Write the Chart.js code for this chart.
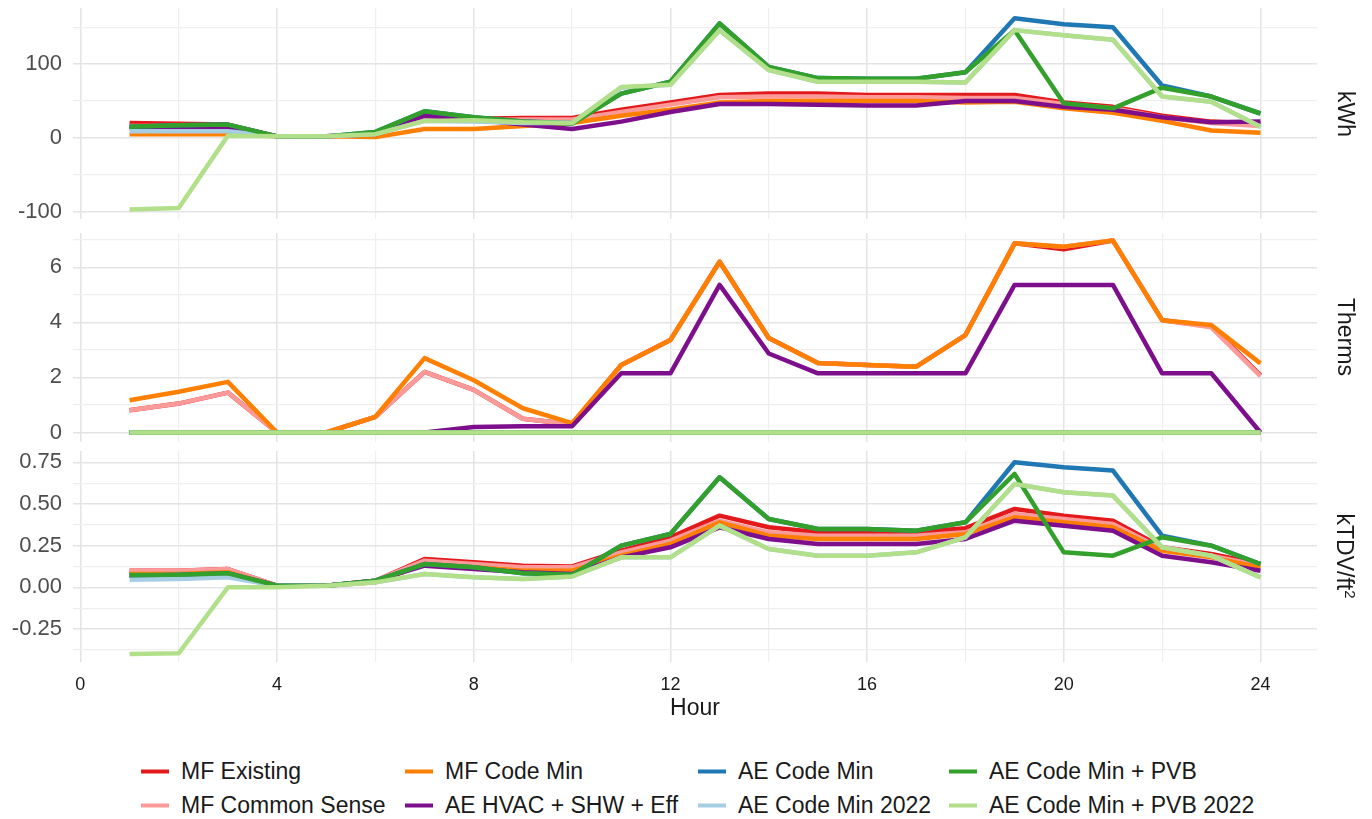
<!DOCTYPE html>
<html>
<head>
<meta charset="utf-8">
<script src="https://cdn.jsdelivr.net/npm/chart.js@4.4.1/dist/chart.umd.min.js"></script>
<style>
  body { margin: 0; background: #fff; width: 1372px; height: 819px; position: relative; overflow: hidden;
         font-family: "Liberation Sans", Arial, sans-serif; }
  canvas.panel { position: absolute; left: 0; }
  .strip { position: absolute; left: 1345px; transform: translate(-50%, -50%) rotate(90deg);
           font-size: 23px; color: #1a1a1a; white-space: nowrap; }
  .strip sup { font-size: 15px; }
  .item { position: absolute; display: flex; align-items: center; transform: translateY(-50%);
          font-size: 23px; color: #1a1a1a; white-space: nowrap; }
  .key { display: inline-block; width: 28px; height: 4px; margin-right: 12px; }
</style>
</head>
<body>
<canvas id="kwh" class="panel" width="1372" height="230" style="top:0px"></canvas>
<canvas id="therms" class="panel" width="1372" height="225" style="top:225px"></canvas>
<canvas id="ktdv" class="panel" width="1372" height="300" style="top:445px"></canvas>
<div class="strip" style="top:114px">kWh</div>
<div class="strip" style="top:337px">Therms</div>
<div class="strip" style="top:556px">kTDV/ft<sup>2</sup></div>
<div id="legend"></div>

<script>
// categories
const hours = [1, 2, 3, 4, 5, 6, 7, 8, 9, 10, 11, 12, 13, 14, 15, 16, 17, 18, 19, 20, 21, 22, 23, 24];
const seriesNames = ['MF Existing', 'MF Common Sense', 'MF Code Min', 'AE HVAC + SHW + Eff',
                     'AE Code Min', 'AE Code Min 2022', 'AE Code Min + PVB', 'AE Code Min + PVB 2022'];
const seriesColors = ['#e31a1c', '#fb9a99', '#ff7f00', '#7d0f8c',
                      '#1f78b4', '#a6cee3', '#33a02c', '#b2df8a'];

// kWh panel
const kwhMfExisting = [20, 19, 18, 2, 2, 5, 31, 26, 27, 27, 38, 48, 58, 60, 60, 58, 58, 58, 58, 48, 42, 30, 22, 19];
const kwhMfCommon   = [16, 16, 15, 2, 2, 5, 28, 24, 25, 25, 35, 45, 55, 56, 56, 55, 55, 54, 54, 46, 40, 28, 20, 16];
const kwhMfCodeMin  = [5, 5, 5, 2, 2, 1, 12, 12, 16, 20, 30, 38, 48, 50, 50, 50, 50, 48, 49, 40, 34, 23, 10, 7];
const kwhAeHvac     = [14, 14, 14, 2, 2, 5, 30, 25, 18, 12, 22, 35, 46, 46, 45, 44, 44, 50, 50, 42, 38, 28, 21, 22];
const kwhAeCodeMin  = [15, 17, 18, 2, 2, 8, 36, 28, 22, 20, 60, 76, 155, 96, 81, 80, 80, 89, 162, 154, 150, 71, 56, 33];
const kwhAeCode2022 = [9, 9, 9, 2, 2, 5, 23, 22, 20, 20, 68, 72, 146, 92, 76, 76, 76, 75, 146, 139, 133, 56, 49, 15];
const kwhAePvb      = [15, 17, 18, 2, 2, 8, 36, 28, 22, 19, 60, 76, 155, 96, 81, 80, 80, 89, 146, 47, 40, 68, 56, 33];
const kwhAePvb2022  = [-97, -95, 3, 2, 2, 5, 23, 24, 21, 20, 69, 72, 146, 92, 76, 76, 76, 75, 146, 139, 133, 56, 49, 15];

// Therms panel
const thmMfExisting = [0.81, 1.05, 1.45, 0, 0, 0.57, 2.2, 1.55, 0.5, 0.3, 2.45, 3.36, 6.2, 3.43, 2.52, 2.45, 2.39, 3.54, 6.87, 6.65, 6.97, 4.08, 3.86, 2.08];
const thmMfCommon   = [0.81, 1.05, 1.45, 0, 0, 0.57, 2.2, 1.55, 0.5, 0.3, 2.45, 3.36, 6.2, 3.43, 2.52, 2.45, 2.39, 3.54, 6.87, 6.75, 6.97, 4.08, 3.82, 2.05];
const thmMfCodeMin  = [1.17, 1.48, 1.84, 0, 0, 0.57, 2.7, 1.9, 0.88, 0.34, 2.45, 3.36, 6.2, 3.43, 2.52, 2.45, 2.39, 3.54, 6.87, 6.75, 6.97, 4.08, 3.9, 2.51];
const thmAeHvac     = [0, 0, 0, 0, 0, 0, 0, 0.2, 0.23, 0.23, 2.15, 2.15, 5.36, 2.87, 2.15, 2.15, 2.15, 2.15, 5.36, 5.36, 5.36, 2.15, 2.15, 0];
const thmAllElec    = [0, 0, 0, 0, 0, 0, 0, 0, 0, 0, 0, 0, 0, 0, 0, 0, 0, 0, 0, 0, 0, 0, 0, 0];

// kTDV/ft2 panel
const tdvMfExisting = [0.10, 0.10, 0.11, 0.01, 0.01, 0.04, 0.17, 0.15, 0.13, 0.125, 0.22, 0.30, 0.43, 0.36, 0.33, 0.33, 0.33, 0.355, 0.47, 0.43, 0.40, 0.24, 0.20, 0.14];
const tdvMfCommon   = [0.10, 0.10, 0.11, 0.01, 0.01, 0.04, 0.16, 0.14, 0.12, 0.12, 0.21, 0.28, 0.40, 0.33, 0.31, 0.31, 0.31, 0.33, 0.44, 0.41, 0.38, 0.23, 0.19, 0.13];
const tdvMfCodeMin  = [0.08, 0.08, 0.09, 0.01, 0.01, 0.03, 0.14, 0.12, 0.10, 0.10, 0.19, 0.26, 0.39, 0.31, 0.29, 0.29, 0.29, 0.32, 0.42, 0.39, 0.36, 0.22, 0.18, 0.12];
const tdvAeHvac     = [0.07, 0.07, 0.08, 0.01, 0.01, 0.04, 0.13, 0.11, 0.09, 0.08, 0.18, 0.24, 0.36, 0.29, 0.26, 0.26, 0.26, 0.29, 0.40, 0.37, 0.34, 0.19, 0.15, 0.10];
const tdvAeCodeMin  = [0.07, 0.075, 0.085, 0.01, 0.01, 0.04, 0.14, 0.12, 0.085, 0.075, 0.25, 0.32, 0.66, 0.41, 0.35, 0.35, 0.34, 0.39, 0.75, 0.72, 0.70, 0.31, 0.25, 0.14];
const tdvAeCode2022 = [0.045, 0.05, 0.06, 0.01, 0.01, 0.03, 0.08, 0.06, 0.05, 0.065, 0.18, 0.18, 0.37, 0.23, 0.19, 0.19, 0.21, 0.30, 0.62, 0.57, 0.55, 0.24, 0.19, 0.06];
const tdvAePvb      = [0.074, 0.075, 0.084, 0.01, 0.01, 0.04, 0.14, 0.12, 0.085, 0.075, 0.25, 0.32, 0.66, 0.41, 0.35, 0.35, 0.34, 0.39, 0.68, 0.21, 0.19, 0.30, 0.25, 0.14];
const tdvAePvb2022  = [-0.40, -0.395, 0.0, 0.0, 0.01, 0.03, 0.08, 0.06, 0.05, 0.065, 0.18, 0.18, 0.37, 0.23, 0.19, 0.19, 0.21, 0.30, 0.62, 0.57, 0.55, 0.24, 0.19, 0.06];

// tick labels
const hourTicks = [0, 4, 8, 12, 16, 20, 24];
const hourMinor = [2, 6, 10, 14, 18, 22];
const kwhTicks = [-100, 0, 100];
const kwhTickLabels = ['-100', '0', '100'];
const kwhMinor = [-50, 50, 150];
const thmTicks = [0, 2, 4, 6];
const thmTickLabels = ['0', '2', '4', '6'];
const thmMinor = [1, 3, 5, 7];
const tdvTicks = [-0.25, 0, 0.25, 0.5, 0.75];
const tdvTickLabels = ['-0.25', '0.00', '0.25', '0.50', '0.75'];
const tdvMinor = [-0.375, -0.125, 0.125, 0.375, 0.625];

const FONT = '"Liberation Sans", Arial, sans-serif';

function gridOpts(majors) {
  return {
    drawTicks: false,
    color: c => (c.tick && majors.includes(c.tick.value)) ? '#e4e4e4' : '#efefef',
    lineWidth: c => (c.tick && majors.includes(c.tick.value)) ? 1.5 : 1.2
  };
}

function tickList(majors, minors) {
  return majors.concat(minors).sort((a, b) => a - b).map(v => ({ value: v }));
}

// keep the chart area where the layout padding puts it
function noLabelPadding(s) {
  s.paddingTop = 0; s.paddingBottom = 0; s.paddingLeft = 0; s.paddingRight = 0;
}

function makePanel(id, values, yMin, yMax, majors, labels, minors, showX, pad) {
  const datasets = values.map((vals, i) => ({
    label: seriesNames[i],
    data: hours.map((h, j) => ({ x: h, y: vals[j] })),
    borderColor: seriesColors[i],
    backgroundColor: seriesColors[i],
    borderWidth: 4.5,
    pointRadius: 0,
    tension: 0,
    borderJoinStyle: 'round',
    order: -i
  }));
  new Chart(document.getElementById(id), {
    type: 'line',
    data: { datasets },
    options: {
      responsive: false,
      animation: false,
      devicePixelRatio: 1,
      layout: { padding: pad },
      plugins: { legend: { display: false }, tooltip: { enabled: false } },
      scales: {
        x: {
          type: 'linear', min: -0.15, max: 25.15,
          afterBuildTicks: s => { s.ticks = tickList(hourTicks, hourMinor); },
          afterFit: s => { s.height = showX ? 60 : 0; noLabelPadding(s); },
          grid: gridOpts(hourTicks),
          border: { display: false },
          ticks: {
            display: showX, padding: 12, autoSkip: false, maxRotation: 0,
            color: '#1a1a1a', font: { family: FONT, size: 18 },
            callback: v => hourTicks.includes(v) ? String(v) : ''
          },
          title: { display: showX, text: 'Hour', color: '#1a1a1a', padding: 0, font: { family: FONT, size: 23 } }
        },
        y: {
          min: yMin, max: yMax,
          afterBuildTicks: s => { s.ticks = tickList(majors, minors); },
          afterFit: s => { s.width = 73; noLabelPadding(s); },
          grid: gridOpts(majors),
          border: { display: false },
          ticks: {
            padding: 11, autoSkip: false,
            color: '#4d4d4d', font: { family: FONT, size: 22 },
            callback: v => { const k = majors.indexOf(v); return k >= 0 ? labels[k] : ''; }
          }
        }
      }
    }
  });
}

makePanel('kwh',
  [kwhMfExisting, kwhMfCommon, kwhMfCodeMin, kwhAeHvac, kwhAeCodeMin, kwhAeCode2022, kwhAePvb, kwhAePvb2022],
  -110, 176, kwhTicks, kwhTickLabels, kwhMinor, false, { top: 8, bottom: 11, left: 0, right: 55 });

makePanel('therms',
  [thmMfExisting, thmMfCommon, thmMfCodeMin, thmAeHvac, thmAllElec, thmAllElec, thmAllElec, thmAllElec],
  -0.345, 7.245, thmTicks, thmTickLabels, thmMinor, false, { top: 8, bottom: 8, left: 0, right: 55 });

makePanel('ktdv',
  [tdvMfExisting, tdvMfCommon, tdvMfCodeMin, tdvAeHvac, tdvAeCodeMin, tdvAeCode2022, tdvAePvb, tdvAePvb2022],
  -0.4475, 0.8175, tdvTicks, tdvTickLabels, tdvMinor, true, { top: 6, bottom: 23, left: 0, right: 55 });

// legend: 2 rows, filled column by column
const legendColX = [141, 405, 698, 949];
const legendRowY = [771, 805];
const legend = document.getElementById('legend');
seriesNames.forEach((name, i) => {
  const item = document.createElement('div');
  item.className = 'item';
  item.style.left = legendColX[Math.floor(i / 2)] + 'px';
  item.style.top = legendRowY[i % 2] + 'px';
  const key = document.createElement('span');
  key.className = 'key';
  key.style.background = seriesColors[i];
  item.appendChild(key);
  item.appendChild(document.createTextNode(name));
  legend.appendChild(item);
});
</script>
</body>
</html>
